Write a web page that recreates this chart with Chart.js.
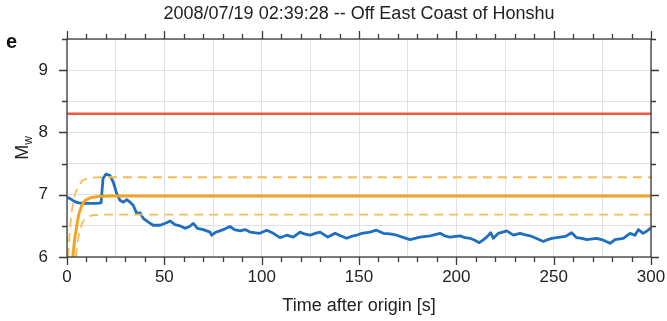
<!DOCTYPE html>
<html>
<head>
<meta charset="utf-8">
<script src="https://cdn.jsdelivr.net/npm/chart.js@4/dist/chart.umd.min.js"></script>
<style>
  html, body { margin: 0; padding: 0; background: #fff; }
  #wrap { width: 667px; height: 321px; }
</style>
</head>
<body>
<div id="wrap"><canvas id="c" width="667" height="321"></canvas></div>
<script>
// Moment magnitude estimate through time, 2008/07/19 Off East Coast of Honshu
const titleText = '2008/07/19 02:39:28 -- Off East Coast of Honshu';
const xLabel = 'Time after origin [s]';
const xTickValues = [0, 50, 100, 150, 200, 250, 300];
const yTickValues = [6, 7, 8, 9];

// Blue: real-time Mw estimate
const estTime = [0, 2, 4, 6, 9, 12, 15, 17.5, 18.5, 20, 22, 23.8, 25.5, 27.2, 29, 30.7, 32.4, 34, 35.8, 37.5,
  39.2, 41.8, 44.3, 47.8, 51.2, 52.9, 55.5, 58, 60.6, 63, 64.9, 67, 70, 73.5, 74.3, 76.5, 78.6, 81, 83.7, 86,
  88.9, 91.5, 94, 99, 102.6, 106, 109.4, 112.9, 116.2, 119.7, 122, 124.8, 127.5, 130, 134, 137.7, 140.5, 143.7, 146, 148.8,
  151.4, 155.6, 159, 162.5, 166, 169.4, 173, 176.2, 181.3, 186.5, 191.6, 194, 196.7, 201.9, 204.5, 207, 209.5, 211.8, 214, 215.6,
  217.6, 219, 221.6, 225.9, 229.3, 232.7, 235, 237.8, 241, 244.7, 247, 249, 253.3, 256, 259.2, 261.8, 264.5, 267, 272, 275.5,
  279, 281.5, 285.8, 289.2, 291.8, 293.5, 296, 298, 300];
const estMw = [6.96, 6.93, 6.89, 6.87, 6.86, 6.86, 6.86, 6.87, 7.26, 7.33, 7.31, 7.20, 7.02, 6.91, 6.88, 6.92, 6.88, 6.83, 6.70, 6.71,
  6.62, 6.56, 6.51, 6.51, 6.55, 6.58, 6.52, 6.50, 6.46, 6.49, 6.54, 6.46, 6.44, 6.40, 6.35, 6.40, 6.42, 6.45, 6.49, 6.44,
  6.42, 6.44, 6.40, 6.38, 6.43, 6.38, 6.31, 6.35, 6.32, 6.40, 6.37, 6.35, 6.38, 6.40, 6.32, 6.38, 6.34, 6.30, 6.33, 6.35,
  6.38, 6.40, 6.43, 6.38, 6.37, 6.35, 6.31, 6.28, 6.32, 6.34, 6.38, 6.34, 6.32, 6.34, 6.31, 6.30, 6.27, 6.23, 6.28, 6.32,
  6.39, 6.30, 6.38, 6.42, 6.35, 6.38, 6.36, 6.34, 6.30, 6.25, 6.28, 6.30, 6.32, 6.33, 6.39, 6.31, 6.30, 6.28, 6.30, 6.27,
  6.22, 6.28, 6.30, 6.38, 6.35, 6.44, 6.38, 6.42, 6.47];

// Orange: reference magnitude growth (solid) with upper / lower bounds (dashed)
const refTime = [3, 4, 5, 6, 7.5, 9, 12, 16, 22, 300];
const refMw = [6.0, 6.3, 6.5, 6.68, 6.82, 6.9, 6.95, 6.97, 6.98, 6.98];
const upperTime = [0.5, 1.5, 2.5, 4, 6, 8, 11, 16, 300];
const upperMw = [6.0, 6.45, 6.75, 7.0, 7.15, 7.23, 7.27, 7.28, 7.28];
const lowerTime = [4.5, 5.5, 6.5, 8, 10, 13, 18, 300];
const lowerMw = [6.0, 6.25, 6.42, 6.56, 6.64, 6.67, 6.68, 6.68];

// Red: final catalogue magnitude
const finalTime = [0, 300];
const finalMw = [8.3, 8.3];

const pts = (xs, ys) => xs.map((x, i) => ({ x: x, y: ys[i] }));

const FONT = '"Liberation Sans", Arial, Helvetica, sans-serif';
const AXIS = '#3a3a3a';

// Frame, outward tick marks and extra labels
const framePlugin = {
  id: 'frame',
  afterDraw(chart) {
    const { ctx, chartArea: a, scales: { x, y } } = chart;
    ctx.save();
    ctx.strokeStyle = AXIS;
    ctx.lineWidth = 1.3;
    ctx.strokeRect(a.left, a.top, a.right - a.left, a.bottom - a.top);
    ctx.beginPath();
    for (let t = 0; t <= 300; t += 10) {
      const px = Math.round(x.getPixelForValue(t)) + 0.5;
      const len = t % 50 === 0 ? 8 : 5;
      ctx.moveTo(px, a.bottom); ctx.lineTo(px, a.bottom + len);
      ctx.moveTo(px, a.top); ctx.lineTo(px, a.top - len);
    }
    for (let k = 0; k <= 7; k++) {
      const v = 6 + k * 0.5;
      const py = Math.round(y.getPixelForValue(v)) + 0.5;
      const len = Number.isInteger(v) ? 8 : 5;
      ctx.moveTo(a.left, py); ctx.lineTo(a.left - len, py);
      ctx.moveTo(a.right, py); ctx.lineTo(a.right + len, py);
    }
    ctx.stroke();

    // panel letter
    ctx.fillStyle = '#111';
    ctx.font = 'bold 20px ' + FONT;
    ctx.textAlign = 'left';
    ctx.textBaseline = 'middle';
    ctx.fillText('e', 6, 42);

    // y-axis title M_w
    const cy = (a.top + a.bottom) / 2;
    ctx.translate(23, cy);
    ctx.rotate(-Math.PI / 2);
    ctx.fillStyle = '#222';
    ctx.font = '18px ' + FONT;
    const mW = ctx.measureText('M').width;
    ctx.font = '12px ' + FONT;
    const wW = ctx.measureText('w').width;
    const start = -(mW + wW) / 2;
    ctx.font = '18px ' + FONT;
    ctx.textAlign = 'left';
    ctx.fillText('M', start, 0);
    ctx.font = '12px ' + FONT;
    ctx.fillText('w', start + mW, 6);
    ctx.restore();
  }
};

new Chart(document.getElementById('c'), {
  type: 'line',
  data: {
    datasets: [
      { data: pts(finalTime, finalMw), borderColor: '#ef5a44', borderWidth: 2.5 },
      { data: pts(upperTime, upperMw), borderColor: '#f4bd55', borderWidth: 1.8, borderDash: [9, 6] },
      { data: pts(lowerTime, lowerMw), borderColor: '#f4bd55', borderWidth: 1.8, borderDash: [9, 6] },
      { data: pts(refTime, refMw), borderColor: '#efa526', borderWidth: 3 },
      { data: pts(estTime, estMw), borderColor: '#1f6fc0', borderWidth: 2.8 }
    ]
  },
  options: {
    responsive: false,
    animation: false,
    events: [],
    layout: { padding: { left: 0, right: 16, top: 0, bottom: 0 } },
    elements: { point: { radius: 0 }, line: { tension: 0, borderJoinStyle: 'round', borderCapStyle: 'butt' } },
    plugins: {
      legend: { display: false },
      tooltip: { enabled: false },
      title: {
        display: true,
        text: titleText,
        fullSize: false,
        color: '#222',
        font: { family: FONT, size: 18, weight: 'normal', lineHeight: 1.2 },
        padding: { top: 3, bottom: 14.4 }
      }
    },
    scales: {
      x: {
        type: 'linear',
        min: 0, max: 300,
        afterFit(s) { s.height = 64; s.paddingLeft = 0; s.paddingRight = 0; },
        afterBuildTicks(s) { s.ticks = [0, 25, 50, 75, 100, 125, 150, 175, 200, 225, 250, 275, 300].map(v => ({ value: v })); },
        grid: { color: '#e2e2e2', lineWidth: 1, drawTicks: false },
        border: { display: false },
        ticks: {
          autoSkip: false, maxRotation: 0, padding: 10,
          color: '#222',
          font: { family: FONT, size: 17 },
          callback: v => xTickValues.includes(v) ? String(v) : ''
        },
        title: {
          display: true, text: xLabel, color: '#222',
          font: { family: FONT, size: 18, lineHeight: 1.2 },
          padding: { top: 0, bottom: 4 }
        }
      },
      y: {
        type: 'linear',
        min: 6, max: 9.5,
        afterFit(s) { s.width = 67; s.paddingTop = 0; s.paddingBottom = 0; },
        afterBuildTicks(s) { s.ticks = [6, 6.5, 7, 7.5, 8, 8.5, 9, 9.5].map(v => ({ value: v })); },
        grid: { color: '#e2e2e2', lineWidth: 1, drawTicks: false },
        border: { display: false },
        ticks: {
          autoSkip: false, padding: 19,
          color: '#222',
          font: { family: FONT, size: 17 },
          callback: v => yTickValues.includes(v) ? String(v) : ''
        }
      }
    }
  },
  plugins: [framePlugin]
});
</script>
</body>
</html>
